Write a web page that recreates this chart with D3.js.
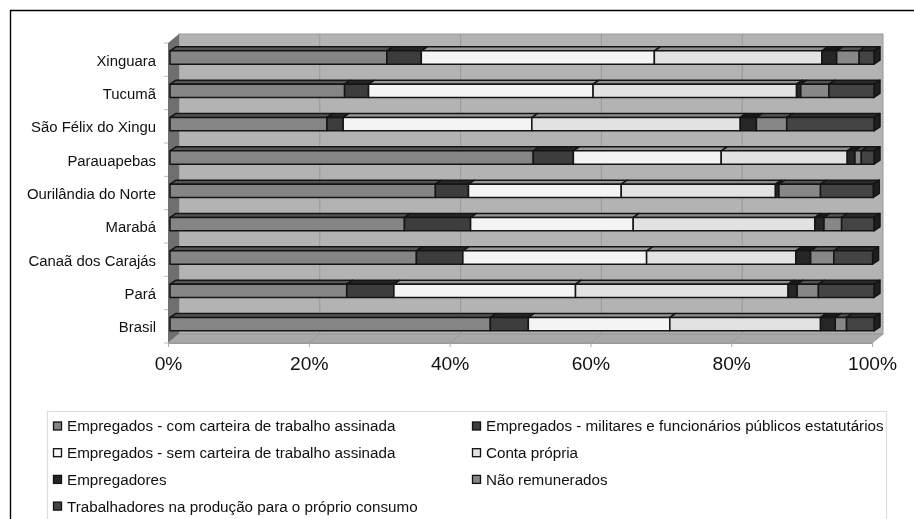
<!DOCTYPE html>
<html>
<head>
<meta charset="utf-8">
<script src="https://d3js.org/d3.v7.min.js"></script>
<style>
html, body { margin: 0; padding: 0; background: #fff; }
svg { display: block; font-family: "Liberation Sans", Arial, sans-serif; filter: blur(0.45px); }
</style>
</head>
<body>
<svg width="914" height="519"></svg>
<script>
var categories = ["Xinguara", "Tucumã", "São Félix do Xingu", "Parauapebas", "Ourilândia do Norte", "Marabá", "Canaã dos Carajás", "Pará", "Brasil"];

var seriesNames = [
    "Empregados - com carteira de trabalho assinada",
    "Empregados - militares e funcionários públicos estatutários",
    "Empregados - sem carteira de trabalho assinada",
    "Conta própria",
    "Empregadores",
    "Não remunerados",
    "Trabalhadores na produção para o próprio consumo"
];

// one list per series, same order as categories
var comCarteira  = [30.8, 24.8, 22.3, 51.6, 37.7, 33.3, 35.0, 25.1, 45.5];
var militares    = [4.9, 3.4, 2.3, 5.7, 4.7, 9.4, 6.6, 6.7, 5.4];
var semCarteira  = [33.1, 31.9, 26.8, 21.0, 21.7, 23.1, 26.1, 25.8, 20.1];
var contaPropria = [23.8, 28.9, 29.6, 17.9, 21.9, 25.8, 21.2, 30.2, 21.4];
var empregadores = [2.1, 0.6, 2.3, 1.1, 0.5, 1.3, 2.1, 1.3, 2.1];
var naoRemun     = [3.2, 4.0, 4.3, 0.9, 5.9, 2.5, 3.3, 3.0, 1.6];
var consumo      = [2.1, 6.4, 12.4, 1.8, 7.5, 4.6, 5.5, 7.9, 3.9];

var seriesValues = [comCarteira, militares, semCarteira, contaPropria, empregadores, naoRemun, consumo];
var colors = ["#858585", "#3d3d3d", "#f4f4f4", "#e2e2e2", "#262626", "#878787", "#444444"];
var xTicks = [0, 20, 40, 60, 80, 100];

var svg = d3.select("svg");

// outer frame, runs off the right and bottom of the picture
svg.append("path")
    .attr("d", "M10.5,519V10.5H914")
    .attr("fill", "none")
    .attr("stroke", "#000")
    .attr("stroke-width", 1.4);

var x = d3.scaleLinear().domain([0, 100]).range([168, 872]);
var y = d3.scaleBand().domain(categories).range([43, 343]).paddingInner(0.6).paddingOuter(0.3);

var depth = {x: 11, y: 9};     // depth of the 3d box
var barDepth = {x: 6, y: 4};   // depth of the bars
var barShift = {x: 2, y: -2.2};

var rows = categories.map(function(c, i) {
    var d = {category: c};
    seriesNames.forEach(function(s, j) { d[s] = seriesValues[j][i]; });
    return d;
});
var stacked = d3.stack().keys(seriesNames)(rows);

var pts = function(a) { return a.map(function(p) { return p.join(","); }).join(" "); };

// box walls
var box = svg.append("g");
box.append("rect")
    .attr("x", x(0) + depth.x).attr("y", 43 - depth.y)
    .attr("width", x(100) - x(0)).attr("height", 300)
    .attr("fill", "#b3b3b3").attr("stroke", "#999");
box.append("polygon")
    .attr("points", pts([[x(0), 43], [x(0) + depth.x, 43 - depth.y], [x(0) + depth.x, 343 - depth.y], [x(0), 343]]))
    .attr("fill", "#6f6f6f");
box.append("polygon")
    .attr("points", pts([[x(0), 343], [x(0) + depth.x, 343 - depth.y], [x(100) + depth.x, 343 - depth.y], [x(100), 343]]))
    .attr("fill", "#a8a8a8").attr("stroke", "#999");

// grid on the back wall and the floor
box.selectAll(".grid")
    .data(xTicks.slice(1, 5))
    .enter().append("path")
    .attr("class", "grid")
    .attr("d", function(d) {
        return "M" + x(d) + ",343L" + (x(d) + depth.x) + "," + (343 - depth.y) + "V" + (43 - depth.y);
    })
    .attr("fill", "none")
    .attr("stroke", "#999");

// bars
var layer = svg.append("g")
    .attr("transform", "translate(" + barShift.x + "," + barShift.y + ")")
    .attr("stroke", "#141414")
    .attr("stroke-width", 1.5)
    .attr("stroke-linejoin", "round");

stacked.forEach(function(s, i) {
    var g = layer.append("g");

    g.selectAll(".top")
        .data(s)
        .enter().append("polygon")
        .attr("class", "top")
        .attr("points", function(d) {
            var yy = y(d.data.category);
            return pts([[x(d[0]), yy], [x(d[0]) + barDepth.x, yy - barDepth.y], [x(d[1]) + barDepth.x, yy - barDepth.y], [x(d[1]), yy]]);
        })
        .attr("fill", d3.color(colors[i]).darker(1.3));

    if (i == stacked.length - 1) {
        g.selectAll(".side")
            .data(s)
            .enter().append("polygon")
            .attr("class", "side")
            .attr("points", function(d) {
                var yy = y(d.data.category), xx = x(d[1]), h = y.bandwidth();
                return pts([[xx, yy], [xx + barDepth.x, yy - barDepth.y], [xx + barDepth.x, yy + h - barDepth.y], [xx, yy + h]]);
            })
            .attr("fill", "#1e1e1e");
    }

    g.selectAll(".front")
        .data(s)
        .enter().append("rect")
        .attr("class", "front")
        .attr("x", function(d) { return x(d[0]); })
        .attr("y", function(d) { return y(d.data.category); })
        .attr("width", function(d) { return x(d[1]) - x(d[0]); })
        .attr("height", y.bandwidth())
        .attr("fill", colors[i]);
});

// axes
var xAxis = svg.append("g")
    .attr("transform", "translate(0,343)")
    .call(d3.axisBottom(x).tickValues(xTicks).tickFormat(function(d) { return d + "%"; }).tickSize(4).tickPadding(9));
xAxis.select(".domain").attr("stroke", "#999");
xAxis.selectAll("line").attr("stroke", "#aaa");
xAxis.selectAll("text")
    .attr("font-family", "Liberation Sans")
    .attr("font-size", 19.2)
    .attr("fill", "#111");

var yAxis = svg.append("g")
    .attr("transform", "translate(168,0)")
    .call(d3.axisLeft(y).tickSize(0).tickPadding(12));
yAxis.select(".domain").remove();
yAxis.selectAll("text")
    .attr("font-family", "Liberation Sans")
    .attr("font-size", 14.9)
    .attr("dy", "0.4em")
    .attr("fill", "#111");

// the category ticks sit on the band edges
svg.append("g").selectAll("line")
    .data(d3.range(categories.length + 1))
    .enter().append("line")
    .attr("x1", 164).attr("x2", 168)
    .attr("y1", function(d) { return 43 + d * y.step(); })
    .attr("y2", function(d) { return 43 + d * y.step(); })
    .attr("stroke", "#bbb");

// legend
var legendBox = svg.append("g");
legendBox.append("path")
    .attr("d", "M47.5,519V411.5H886.5V519")
    .attr("fill", "none")
    .attr("stroke", "#ddd")
    .attr("stroke-width", 1.2);

var legend = legendBox.selectAll(".item")
    .data(seriesNames)
    .enter().append("g")
    .attr("class", "item")
    .attr("transform", function(d, i) {
        return "translate(" + (i % 2 ? 472 : 53) + "," + (426 + Math.floor(i / 2) * 26.7) + ")";
    });

legend.append("rect")
    .attr("x", 0.5).attr("y", -4)
    .attr("width", 8).attr("height", 8)
    .attr("fill", function(d, i) { return colors[i]; })
    .attr("stroke", "#111")
    .attr("stroke-width", 1.3);

legend.append("text")
    .attr("x", 14)
    .attr("dy", "0.36em")
    .attr("font-size", 15.2)
    .attr("fill", "#111")
    .text(function(d) { return d; });
</script>
</body>
</html>
